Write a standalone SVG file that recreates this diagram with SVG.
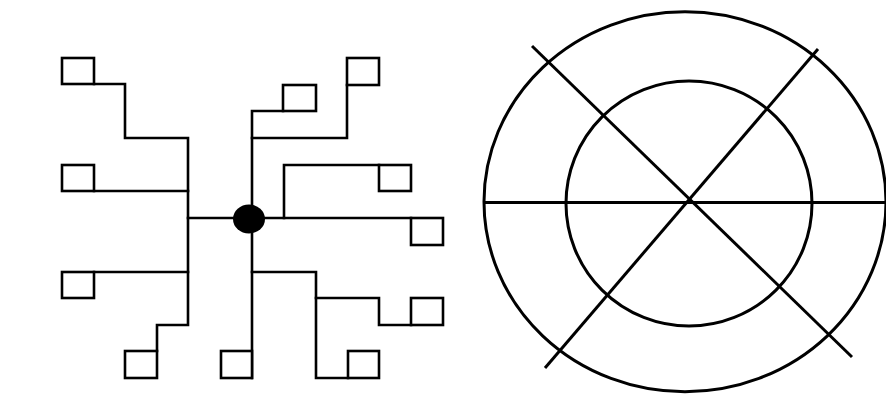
<svg xmlns="http://www.w3.org/2000/svg" width="886" height="394" viewBox="0 0 886 394">
<style>
.ln{fill:none;stroke:#000;stroke-width:2.6;stroke-linejoin:miter;stroke-linecap:square}
.bx{fill:#fff;stroke:#000;stroke-width:2.6}
.cl{fill:none;stroke:#000;stroke-width:3}
</style>
<rect width="886" height="394" fill="#fff"/>
<g id="connectors">
<polyline class="ln" points="94,84 125,84 125,138 188,138 188,325 157,325 157,351"/>
<line class="ln" x1="94" y1="191" x2="188" y2="191"/>
<line class="ln" x1="94" y1="272" x2="188" y2="272"/>
<line class="ln" x1="188" y1="218" x2="240" y2="218"/>
<polyline class="ln" points="283,111 252,111 252,378"/>
<polyline class="ln" points="252,138 347,138 347,85"/>
<line class="ln" x1="255" y1="218" x2="411" y2="218"/>
<polyline class="ln" points="284,218 284,165 379,165"/>
<polyline class="ln" points="252,272 316,272 316,378 348,378"/>
<polyline class="ln" points="316,298 379,298 379,325 411,325"/>
</g>
<g id="b1"><rect class="bx" x="62" y="58" width="32" height="26"/></g>
<g id="b2"><rect class="bx" x="62" y="165" width="32" height="26"/></g>
<g id="b3"><rect class="bx" x="62" y="272" width="32" height="26"/></g>
<g id="b4"><rect class="bx" x="125" y="351" width="32" height="27"/></g>
<g id="b5"><rect class="bx" x="221" y="351" width="31" height="27"/></g>
<g id="b6"><rect class="bx" x="283" y="85" width="33" height="26"/></g>
<g id="b7"><rect class="bx" x="347" y="58" width="32" height="27"/></g>
<g id="b8"><rect class="bx" x="379" y="165" width="32" height="26"/></g>
<g id="b9"><rect class="bx" x="411" y="218" width="32" height="27"/></g>
<g id="b10"><rect class="bx" x="411" y="298" width="32" height="27"/></g>
<g id="b11"><rect class="bx" x="348" y="351" width="31" height="27"/></g>
<g id="hub"><ellipse cx="249" cy="219" rx="16" ry="14.5" fill="#000"/></g>
<g id="target">
<ellipse class="cl" cx="685" cy="201.7" rx="201" ry="190"/>
<ellipse class="cl" cx="689" cy="203.5" rx="123" ry="122.5"/>
<line class="cl" x1="484" y1="202.5" x2="886" y2="202.5"/>
<line class="cl" x1="532" y1="46" x2="852" y2="357"/>
<line class="cl" x1="818" y1="49" x2="545" y2="368"/>
</g>
</svg>
